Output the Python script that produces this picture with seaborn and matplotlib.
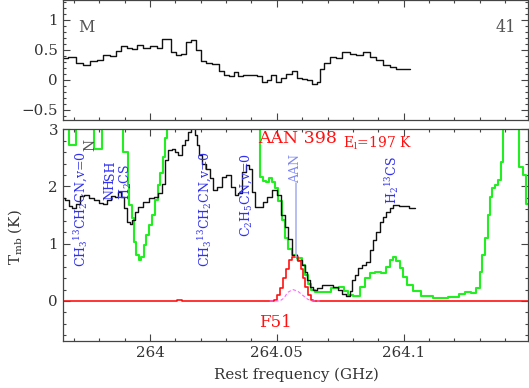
import numpy as np
import pandas as pd
import matplotlib
matplotlib.use("Agg")
import matplotlib.pyplot as plt
from matplotlib.ticker import MultipleLocator
import seaborn as sns

# ===== top panel (M) =====
top_freq = [263.9659, 263.9692, 263.9724, 263.9751, 263.9777, 263.9803, 263.9830, 263.9856,
            263.9875, 263.9895, 263.9921, 263.9934, 263.9961, 263.9987, 264.0013, 264.0039,
            264.0059, 264.0072, 264.0092, 264.0112, 264.0131, 264.0151, 264.0171, 264.0190,
            264.0210, 264.0230, 264.0262, 264.0282, 264.0302, 264.0322, 264.0341, 264.0354,
            264.0381, 264.0407, 264.0433, 264.0453, 264.0466, 264.0485, 264.0505, 264.0525,
            264.0551, 264.0571, 264.0591, 264.0610, 264.0630, 264.0650, 264.0663, 264.0676,
            264.0696, 264.0722, 264.0741, 264.0774, 264.0800, 264.0827, 264.0853, 264.0879,
            264.0906, 264.0932, 264.0958, 264.0984, 264.1024]
top_tmb = [0.36, 0.38, 0.28, 0.25, 0.32, 0.34, 0.42, 0.40,
           0.49, 0.57, 0.54, 0.51, 0.58, 0.53, 0.57, 0.54,
           0.68, 0.68, 0.47, 0.42, 0.44, 0.64, 0.66, 0.50,
           0.31, 0.28, 0.27, 0.15, 0.08, 0.07, 0.13, 0.06,
           0.08, 0.09, 0.07, -0.03, 0.00, 0.08, -0.03, 0.04,
           0.10, 0.15, 0.04, 0.02, 0.00, -0.07, -0.03, 0.19,
           0.28, 0.39, 0.36, 0.46, 0.44, 0.42, 0.47, 0.39,
           0.33, 0.25, 0.21, 0.19, 0.19]

# ===== bottom panel: observed spectrum (black) =====
obs_freq = [263.9659, 263.9672, 263.9687, 263.9698, 263.9718, 263.9731, 263.9751, 263.9770,
            263.9790, 263.9810, 263.9823, 263.9836, 263.9856, 263.9869, 263.9882, 263.9893,
            263.9902, 263.9915, 263.9925, 263.9934, 263.9948, 263.9961, 263.9987, 264.0007,
            264.0026, 264.0039, 264.0052, 264.0066, 264.0079, 264.0092, 264.0105, 264.0118,
            264.0131, 264.0144, 264.0157, 264.0170, 264.0184, 264.0190, 264.0197, 264.0210,
            264.0230, 264.0243, 264.0256, 264.0276, 264.0295, 264.0308, 264.0328, 264.0341,
            264.0354, 264.0374, 264.0387, 264.0396, 264.0407, 264.0420, 264.0440, 264.0453,
            264.0472, 264.0492, 264.0512, 264.0524, 264.0538, 264.0551, 264.0571, 264.0591,
            264.0604, 264.0617, 264.0623, 264.0636, 264.0650, 264.0669, 264.0689, 264.0709,
            264.0735, 264.0748, 264.0768, 264.0781, 264.0794, 264.0800, 264.0813, 264.0827,
            264.0846, 264.0859, 264.0873, 264.0886, 264.0899, 264.0912, 264.0925, 264.0938,
            264.0951, 264.0965, 264.0997, 264.1043]
obs_tmb = [1.79, 1.76, 1.66, 1.63, 1.70, 1.83, 1.85, 1.80,
           1.76, 1.71, 1.70, 1.76, 1.83, 1.82, 1.91, 1.82,
           1.62, 1.38, 1.34, 1.41, 1.56, 1.64, 1.73, 1.79,
           1.81, 1.88, 2.05, 2.46, 2.63, 2.66, 2.60, 2.55,
           2.72, 2.81, 2.95, 3.10, 2.90, 2.72, 2.55, 2.40,
           2.31, 2.14, 1.94, 1.99, 2.17, 2.20, 1.99, 1.85,
           1.88, 2.26, 2.38, 2.31, 1.91, 1.64, 1.64, 1.73,
           1.82, 1.94, 1.85, 1.50, 1.30, 1.09, 0.80, 0.72,
           0.63, 0.51, 0.37, 0.25, 0.19, 0.23, 0.28, 0.28,
           0.25, 0.19, 0.13, 0.08, 0.17, 0.37, 0.45, 0.57,
           0.62, 0.68, 0.89, 1.06, 1.21, 1.38, 1.47, 1.56,
           1.62, 1.67, 1.66, 1.63]

# ===== full model (green) =====
full_freq = [263.9659, 263.9669, 263.9689, 263.9701, 263.9713, 263.9764, 263.9791, 263.9803,
             263.9819, 263.9882, 263.9908, 263.9915, 263.9921, 263.9934, 263.9941, 263.9950,
             263.9961, 263.9971, 263.9980, 263.9989, 264.0000, 264.0013, 264.0026, 264.0037,
             264.0046, 264.0055, 264.0063, 264.0072, 264.0425, 264.0441, 264.0453, 264.0465,
             264.0476, 264.0488, 264.0500, 264.0512, 264.0525, 264.0538, 264.0551, 264.0571,
             264.0591, 264.0604, 264.0617, 264.0630, 264.0642, 264.0656, 264.0696, 264.0735,
             264.0755, 264.0774, 264.0787, 264.0814, 264.0840, 264.0859, 264.0879, 264.0899,
             264.0919, 264.0938, 264.0952, 264.0965, 264.0978, 264.0991, 264.1004, 264.1024,
             264.1050, 264.1089, 264.1142, 264.1207, 264.1227, 264.1253, 264.1280, 264.1293,
             264.1306, 264.1315, 264.1326, 264.1335, 264.1345, 264.1354, 264.1367, 264.1378,
             264.1387, 264.1398, 264.1449, 264.1463, 264.1476, 264.1485, 264.1492]
full_tmb = [3.5, 3.5, 2.72, 2.72, 3.5, 3.5, 2.65, 2.65,
            3.5, 3.5, 2.60, 2.02, 1.67, 1.45, 1.03, 0.80,
            0.72, 0.77, 0.98, 1.15, 1.33, 1.50, 1.76, 2.02,
            2.23, 2.52, 2.84, 3.5, 3.5, 2.17, 2.10, 2.08,
            2.14, 2.08, 1.97, 1.75, 1.41, 1.10, 0.90, 0.80,
            0.75, 0.62, 0.45, 0.30, 0.20, 0.16, 0.16, 0.22,
            0.24, 0.18, 0.10, 0.09, 0.25, 0.40, 0.48, 0.50,
            0.48, 0.60, 0.72, 0.77, 0.70, 0.57, 0.42, 0.28,
            0.17, 0.09, 0.06, 0.07, 0.12, 0.15, 0.14, 0.23,
            0.51, 0.80, 1.10, 1.50, 1.82, 1.97, 2.02, 2.11,
            2.43, 3.5, 3.5, 2.34, 2.20, 1.70, 1.70]

# ===== AAN model (red) =====
aan_freq = [263.9659, 264.0098, 264.0118, 264.0138, 264.0485, 264.0496, 264.0508, 264.0520,
            264.0531, 264.0543, 264.0555, 264.0567, 264.0579, 264.0591, 264.0598, 264.0608,
            264.0618, 264.0628, 264.0638, 264.0650, 264.1492]
aan_tmb = [0.0, 0.0, 0.012, 0.0, 0.0, 0.02, 0.10, 0.22,
           0.40, 0.55, 0.72, 0.77, 0.77, 0.70, 0.55, 0.40,
           0.25, 0.10, 0.02, 0.0, 0.0]

# ===== AAN optically thin (magenta dashed) =====
thin_freq = [264.0472, 264.0512, 264.0528, 264.0543, 264.0563, 264.0583, 264.0602, 264.0622,
             264.0638, 264.0669]
thin_tmb = [0.0, 0.0, 0.05, 0.15, 0.20, 0.17, 0.10, 0.03, 0.0, 0.0]

# ===== line labels =====
lab_text = ["CH$_3$$^{13}$CH$_2$CN,v=0", "NH", "SH", "H$_2$CS",
            "CH$_3$$^{13}$CH$_2$CN,v=0", "C$_2$H$_5$CN,v=0", "H$_2$$^{13}$CS"]
lab_freq = [263.9731, 263.9843, 263.9843, 263.9906, 264.0217, 264.0381, 264.0953]
lab_tmb = [0.59, 1.76, 2.12, 1.76, 0.59, 1.12, 1.69]
aan_mark_freq = 264.0574

sns.set_style("ticks")
plt.rcParams["font.family"] = ["DejaVu Serif"]
plt.rcParams["mathtext.fontset"] = "dejavuserif"
plt.rcParams["xtick.direction"] = "in"
plt.rcParams["ytick.direction"] = "in"

edge = "#444444"
txt = "#333333"

fig = plt.figure(figsize=(5.29, 3.88), dpi=100)
ax1 = fig.add_axes([0.119, 0.691, 0.880, 0.309])
ax2 = fig.add_axes([0.119, 0.121, 0.880, 0.546])

xlim = (263.9657, 264.1492)

# top panel
sns.lineplot(x=top_freq, y=top_tmb, ax=ax1, color="#111111", lw=1.0,
             drawstyle="steps-mid", estimator=None, sort=False, legend=False)
ax1.set_ylim(-0.667, 1.333)
ax1.yaxis.set_minor_locator(MultipleLocator(0.1))
ax1.set_yticks([-0.5, 0, 0.5, 1])
ax1.set_yticklabels(["\u22120.5", "0", "0.5", "1"])
ax1.tick_params(labelbottom=False)
ax1.text(263.9717, 0.87, "M", color="#555555", fontsize=11.5, va="center", ha="left")
ax1.text(264.1441, 0.87, "41", color="#555555", fontsize=11.5, va="center", ha="right")

# bottom panel
sns.lineplot(x=full_freq, y=full_tmb, ax=ax2, color="#22ee22", lw=1.5,
             drawstyle="steps-mid", estimator=None, sort=False, legend=False)
sns.lineplot(x=obs_freq, y=obs_tmb, ax=ax2, color="#111111", lw=1.0,
             drawstyle="steps-mid", estimator=None, sort=False, legend=False)
sns.lineplot(x=aan_freq, y=aan_tmb, ax=ax2, color="#ff1111", lw=1.2,
             drawstyle="steps-mid", estimator=None, sort=False, legend=False)
sns.lineplot(x=thin_freq, y=thin_tmb, ax=ax2, color="#ff66ff", lw=0.8,
             linestyle=(0, (3, 2)), estimator=None, sort=False, legend=False)
ax2.set_ylim(-0.70, 3.0)
ax2.yaxis.set_major_locator(MultipleLocator(1))
ax2.yaxis.set_minor_locator(MultipleLocator(0.2))

for t, f, v in zip(lab_text, lab_freq, lab_tmb):
    ax2.text(f, v, t, rotation=90, color="#3030ee", fontsize=9,
             ha="center", va="bottom")
ax2.text(263.9766, 2.72, "N", rotation=90, color="#555555", fontsize=10,
         ha="center", va="center")
ax2.plot([aan_mark_freq, aan_mark_freq], [0.77, 2.06], color="#aab4f0", lw=1.2)
ax2.text(aan_mark_freq, 2.06, "AAN", rotation=90, color="#7f88f0", fontsize=9,
         ha="center", va="bottom")

ax2.text(264.0425, 2.84, "AAN 398", color="#ff1111", fontsize=12.5, va="center", ha="left")
ax2.text(264.0760, 2.76, "E$_{\\rm l}$=197 K", color="#ff1111", fontsize=10,
         va="center", ha="left")
ax2.text(264.0496, -0.37, "F51", color="#ff1111", fontsize=12, va="center", ha="center")

for ax in (ax1, ax2):
    ax.set_xlim(*xlim)
    ax.xaxis.set_major_locator(MultipleLocator(0.05))
    ax.xaxis.set_minor_locator(MultipleLocator(0.01))
    ax.tick_params(which="both", top=True, right=True, colors=edge, labelcolor=txt,
                   labelsize=10.8)
    ax.tick_params(which="major", length=5, width=0.8)
    ax.tick_params(which="minor", length=2.5, width=0.8)
    for s in ax.spines.values():
        s.set_color(edge)
        s.set_linewidth(0.9)
    ax.set_xlabel("")
    ax.set_ylabel("")

ax2.set_xticks([264.0, 264.05, 264.1])
ax2.set_xticklabels(["264", "264.05", "264.1"])

fig.text(0.561, 0.033, "Rest frequency (GHz)", color=txt, fontsize=10.8,
         ha="center", va="center")
fig.text(0.028, 0.39, "T$_{\\rm mb}$ (K)", color=txt, fontsize=10.8, rotation=90,
         ha="center", va="center")

fig.savefig("out.png", dpi=100)
